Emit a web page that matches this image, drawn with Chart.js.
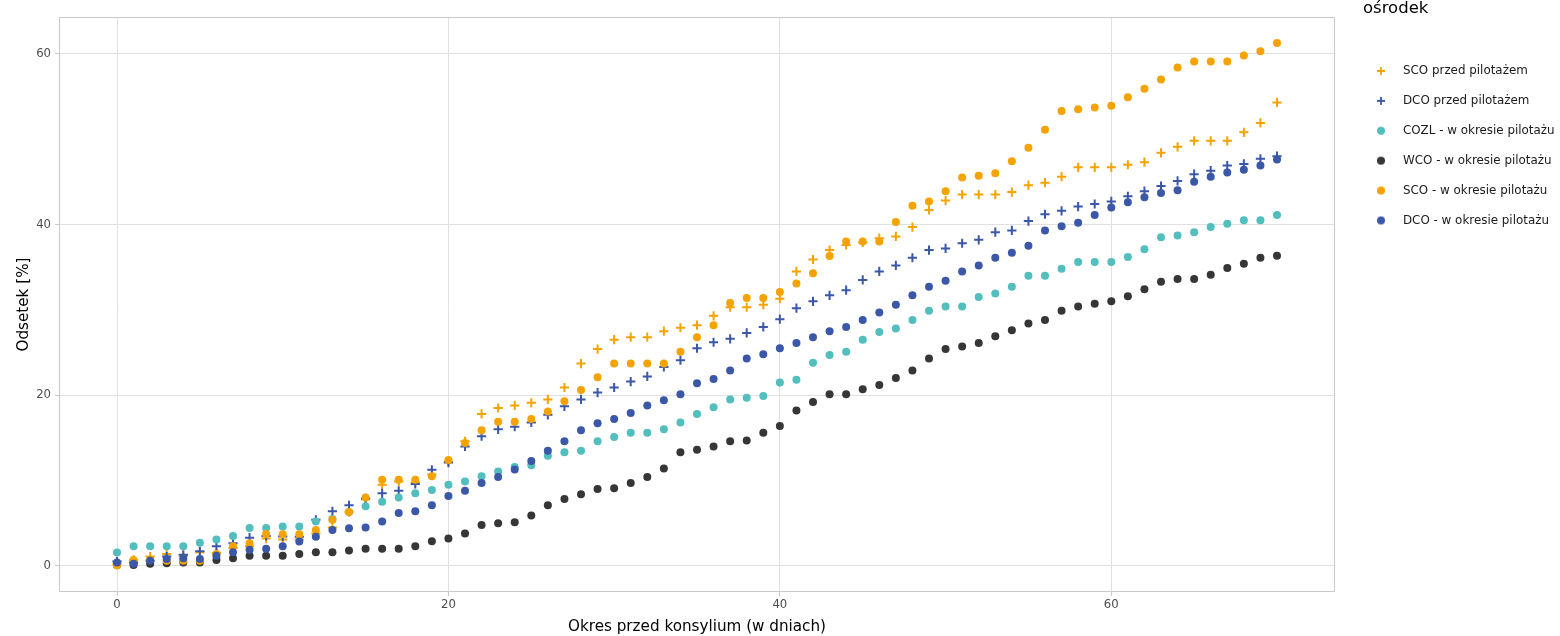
<!DOCTYPE html>
<html>
<head>
<meta charset="utf-8">
<script src="https://cdn.jsdelivr.net/npm/chart.js@4/dist/chart.umd.min.js"></script>
<style>html,body{margin:0;padding:0;background:#fff;overflow:hidden}canvas{display:block}</style>
</head>
<body>
<canvas id="c" width="1560" height="636"></canvas>
<script>
const days = [0,1,2,3,4,5,6,7,8,9,10,11,12,13,14,15,16,17,18,19,20,21,22,23,24,25,26,27,28,29,30,31,32,33,34,35,36,37,38,39,40,41,42,43,44,45,46,47,48,49,50,51,52,53,54,55,56,57,58,59,60,61,62,63,64,65,66,67,68,69,70];

const scoPrzed = [0.2,0.7,1.1,1.4,1.2,1.6,1.5,2.1,2.3,3.2, 3.1,3.1,3.8,4.5,6.3,7.8,9.5,9.9,9.8,10.7, 12.2,14.6,17.8,18.5,18.8,19.1,19.5,20.9,23.7,25.4, 26.5,26.8,26.8,27.5,27.9,28.2,29.3,30.3,30.3,30.6, 31.3,34.5,35.9,37.0,37.6,37.9,38.4,38.6,39.7,41.7, 42.8,43.5,43.5,43.5,43.8,44.6,44.9,45.6,46.7,46.7, 46.7,47.0,47.3,48.4,49.1,49.8,49.8,49.8,50.8,51.9,54.3];
const dcoPrzed = [0.5,0.4,0.6,1.1,1.3,1.7,2.3,2.65,3.3,3.5, 3.45,3.4,5.4,6.4,7.1,7.9,8.5,8.8,9.6,11.25, 12.1,14.0,15.2,16.0,16.3,16.8,17.7,18.7,19.5,20.3, 20.9,21.6,22.2,23.3,24.1,25.5,26.2,26.6,27.3,28.0, 28.9,30.2,31.0,31.7,32.3,33.5,34.5,35.2,36.1,37.0, 37.2,37.8,38.2,39.1,39.3,40.4,41.2,41.6,42.1,42.4, 42.7,43.3,43.9,44.5,45.1,45.9,46.3,46.9,47.1,47.7,48.0];
const cozlW = [1.56,2.3,2.3,2.3,2.3,2.7,3.1,3.5,4.45,4.45, 4.6,4.6,5.2,5.5,6.3,7.0,7.5,8.0,8.5,8.9, 9.5,9.9,10.5,11.05,11.6,11.8,12.9,13.3,13.5,14.6, 15.1,15.6,15.6,16.0,16.8,17.8,18.6,19.5,19.7,19.9, 21.5,21.8,23.8,24.7,25.1,26.5,27.4,27.8,28.8,29.9, 30.4,30.4,31.5,31.9,32.7,34.0,34.0,34.8,35.6,35.6, 35.6,36.2,37.1,38.5,38.7,39.1,39.7,40.1,40.5,40.5,41.1];
const wcoW = [0.1,0.1,0.25,0.3,0.4,0.4,0.7,0.9,1.2,1.2, 1.2,1.4,1.6,1.6,1.8,2.0,2.0,2.0,2.3,2.9, 3.2,3.8,4.8,5.0,5.1,5.9,7.1,7.85,8.4,9.0, 9.1,9.7,10.4,11.4,13.3,13.6,14.0,14.6,14.7,15.6, 16.4,18.2,19.2,20.1,20.1,20.7,21.2,22.0,22.9,24.3, 25.4,25.7,26.1,26.9,27.6,28.4,28.8,29.9,30.4,30.7, 31.0,31.6,32.4,33.3,33.6,33.6,34.1,34.9,35.4,36.1,36.35];
const scoW = [0.05,0.7,0.7,0.6,0.6,0.6,1.4,2.3,2.65,3.75, 3.7,3.7,4.2,5.4,6.3,8.0,10.1,10.1,10.1,10.5, 12.4,14.4,15.9,16.9,16.9,17.2,18.1,19.3,20.6,22.1, 23.7,23.7,23.7,23.7,25.1,26.8,28.2,30.8,31.4,31.4, 32.1,33.1,34.3,36.3,38.0,38.0,38.0,40.3,42.2,42.7, 43.9,45.5,45.7,46.0,47.4,49.0,51.1,53.3,53.5,53.7, 53.9,54.9,55.9,57.0,58.4,59.1,59.1,59.1,59.8,60.3,61.25];
const dcoW = [0.4,0.25,0.6,0.8,0.9,0.8,1.2,1.6,1.9,2.0, 2.3,2.85,3.4,4.2,4.4,4.5,5.2,6.2,6.4,7.1, 8.2,8.8,9.7,10.4,11.3,12.3,13.5,14.6,15.9,16.7, 17.2,17.9,18.8,19.4,20.1,21.4,21.9,22.9,24.3,24.8, 25.5,26.1,26.8,27.5,28.0,28.8,29.7,30.6,31.7,32.7, 33.4,34.5,35.2,36.1,36.7,37.5,39.3,39.8,40.2,41.1, 42.0,42.6,43.2,43.7,44.0,45.0,45.6,46.1,46.4,46.9,47.6];

const seriesLabels = ['SCO przed pilotażem','DCO przed pilotażem','COZL - w okresie pilotażu','WCO - w okresie pilotażu','SCO - w okresie pilotażu','DCO - w okresie pilotażu'];
const seriesValues = [scoPrzed, dcoPrzed, cozlW, wcoW, scoW, dcoW];
const seriesColors = ['#F5A300','#3B57A8','#52BEBE','#363636','#F5A300','#3B57A8'];
const seriesShapes = ['cross','cross','circle','circle','circle','circle'];

const xTicks = [0,20,40,60];
const yTicks = [0,20,40,60];
const xTitle = 'Okres przed konsylium (w dniach)';
const yTitle = 'Odsetek [%]';
const legendTitle = 'ośrodek';

const FONT = "'DejaVu Sans', Verdana, sans-serif";

function legendMarker(color, shape) {
  const c = document.createElement('canvas');
  c.width = 32; c.height = 12;
  const g = c.getContext('2d');
  if (shape === 'cross') {
    g.strokeStyle = color; g.lineWidth = 1.8;
    g.beginPath();
    g.moveTo(4, 6); g.lineTo(12, 6);
    g.moveTo(8, 2); g.lineTo(8, 10);
    g.stroke();
  } else {
    g.fillStyle = color;
    g.beginPath(); g.arc(8, 6, 4, 0, Math.PI * 2); g.fill();
  }
  return c;
}
const legendMarkers = seriesColors.map((c, i) => legendMarker(c, seriesShapes[i]));

const datasets = seriesLabels.map((label, i) => ({
  label: label,
  data: days.map((d, j) => ({x: d, y: seriesValues[i][j]})),
  pointStyle: seriesShapes[i],
  pointRadius: seriesShapes[i] === 'cross' ? 4.6 : 4,
  pointBorderWidth: seriesShapes[i] === 'cross' ? 2 : 0,
  borderColor: seriesColors[i],
  backgroundColor: seriesColors[i],
  showLine: false,
  order: seriesLabels.length - i
}));

const layoutFix = {
  id: 'layoutFix',
  beforeLayout(chart) {
    const lg = chart.legend;
    if (lg && !lg._fixedFit) {
      const f = lg.fit;
      lg.fit = function () { f.call(this); this.width = 225; };
      lg._fixedFit = true;
    }
  },
  afterLayout(chart) {
    const lg = chart.legend;
    if (lg) {
      lg.left = chart.chartArea.right + 28;
      lg.width = lg.right - lg.left;
    }
  }
};

const panelBorder = {
  id: 'panelBorder',
  beforeDatasetsDraw(chart) {
    const a = chart.chartArea, ctx = chart.ctx;
    ctx.save();
    ctx.strokeStyle = '#C9C9C9';
    ctx.lineWidth = 1;
    ctx.strokeRect(a.left + 0.5, a.top + 0.5, a.right - a.left - 1, a.bottom - a.top - 1);
    ctx.restore();
  }
};

new Chart(document.getElementById('c'), {
  type: 'scatter',
  data: { datasets: datasets },
  plugins: [layoutFix, panelBorder],
  options: {
    responsive: false,
    animation: false,
    devicePixelRatio: 1,
    events: [],
    layout: { padding: 0 },
    scales: {
      x: {
        type: 'linear', min: -3.5, max: 73.5,
        afterBuildTicks: s => { s.ticks = xTicks.map(v => ({value: v})); },
        afterFit: s => { s.height = 44; },
        grid: { color: '#E0E0E0', lineWidth: 1, tickColor: '#C9C9C9', tickLength: 4, drawTicks: true },
        border: { display: false },
        ticks: { color: '#4D4D4D', font: { family: FONT, size: 11.7 }, padding: 2, maxRotation: 0, autoSkip: false },
        title: { display: true, text: xTitle, color: '#000', font: { family: FONT, size: 15.2 }, padding: { top: 0, bottom: 0 } }
      },
      y: {
        type: 'linear', min: -3.06, max: 64.31,
        afterBuildTicks: s => { s.ticks = yTicks.map(v => ({value: v})); },
        afterFit: s => { s.width = 59; },
        grid: { color: '#E0E0E0', lineWidth: 1, tickColor: '#C9C9C9', tickLength: 4, drawTicks: true },
        border: { display: false },
        ticks: { color: '#4D4D4D', font: { family: FONT, size: 11.7 }, padding: 4, autoSkip: false },
        title: { display: true, text: yTitle, color: '#000', font: { family: FONT, size: 15.2 }, padding: { top: 15, bottom: 0 } }
      }
    },
    plugins: {
      title: { display: true, text: '', fullSize: false, font: { size: 17, lineHeight: 1 }, padding: 0 },
      tooltip: { enabled: false },
      legend: {
        display: true,
        position: 'right',
        align: 'start',
        title: { display: true, text: legendTitle, position: 'start', color: '#000', font: { family: FONT, size: 16.5, lineHeight: 1.2 }, padding: { top: 0, bottom: 27.2 } },
        labels: {
          usePointStyle: true,
          pointStyleWidth: 16,
          padding: 18,
          color: '#1A1A1A',
          font: { family: FONT, size: 11.9 },
          sort: (a, b) => a.datasetIndex - b.datasetIndex,
          generateLabels: chart => chart.data.datasets.map((ds, i) => ({
            text: ds.label,
            fillStyle: ds.backgroundColor,
            strokeStyle: ds.borderColor,
            lineWidth: 0,
            pointStyle: legendMarkers[i],
            hidden: false,
            datasetIndex: i,
            fontColor: '#1A1A1A'
          }))
        }
      }
    }
  }
});
</script>
</body>
</html>
